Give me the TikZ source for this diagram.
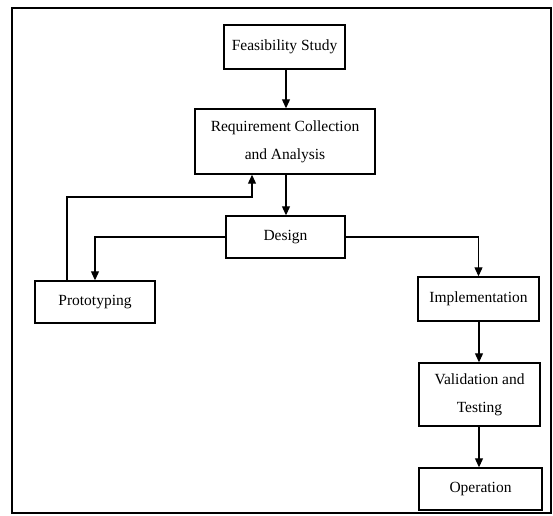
\documentclass[tikz,border=0pt]{standalone}
\usepackage{fontspec}
\setmainfont{Liberation Serif}
\usetikzlibrary{arrows.meta,calc}
\begin{document}
\begin{tikzpicture}[x=1pt,y=-1pt,
  box/.style={draw, line width=1.4pt, inner sep=0pt, align=center,
    font=\fontsize{15.5}{28}\selectfont},
  conn/.style={line width=1.1pt},
  arr/.style={conn, -{Triangle[length=9pt,width=8pt]}}]
\useasboundingbox (0,0) rectangle (553,515);
\draw[line width=1.1pt] (12,8) rectangle (551,513);
\node[box, minimum width=121pt, minimum height=44pt] (feas) at (284.5,47) {Feasibility Study};
\node[box, minimum width=180pt, minimum height=65pt] (req) at (285,141.5) {Requirement Collection\\and Analysis};
\node[box, minimum width=119pt, minimum height=42pt] (design) at (285.5,237) {Design};
\node[box, minimum width=120pt, minimum height=42pt] (proto) at (95,302) {Prototyping};
\node[box, minimum width=121pt, minimum height=44pt] (impl) at (478.5,299) {Implementation};
\node[box, minimum width=121pt, minimum height=63pt] (valid) at (479.5,394.5) {Validation and\\Testing};
\node[box, minimum width=123pt, minimum height=42pt] (oper) at (480.5,489) {Operation};
\coordinate (fbl) at (67,197);
\coordinate (fbr) at (252,197);
\draw[arr] (feas.south -| 286,0) -- (req.north -| 286,0);
\draw[arr] (req.south -| 286,0) -- (design.north -| 286,0);
\draw[arr] (design.west) -| (proto.north);
\draw[arr] (design.east) -| (impl.north);
\draw[arr] (impl.south -| 479,0) -- (valid.north -| 479,0);
\draw[arr] (valid.south -| 479,0) -- (oper.north -| 479,0);
\draw[arr] (proto.north -| fbl) -- (fbl) -- (fbr) -- (req.south -| fbr);
\end{tikzpicture}
\end{document}
